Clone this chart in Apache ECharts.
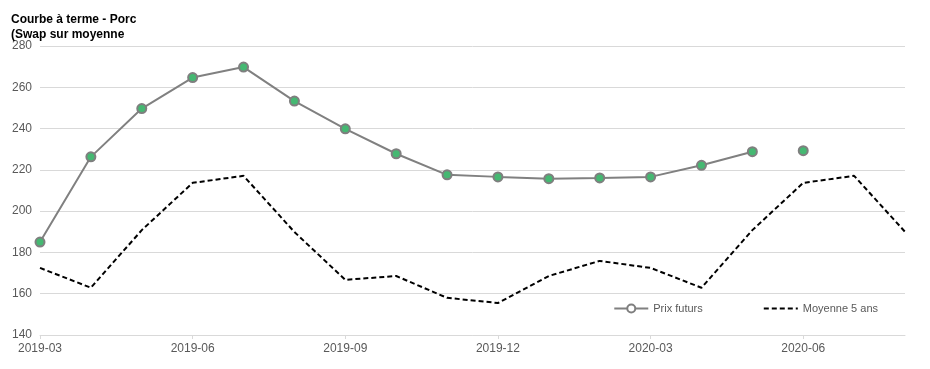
<!DOCTYPE html>
<html><head><meta charset="utf-8">
<script src="https://cdn.jsdelivr.net/npm/echarts@6/dist/echarts.min.js"></script>
<style>html,body{margin:0;padding:0;background:#fff}#c{width:930px;height:369px}</style>
</head><body><div id="c"></div>
<script>
var categories = ['2019-03','2019-04','2019-05','2019-06','2019-07','2019-08','2019-09','2019-10','2019-11','2019-12','2020-01','2020-02','2020-03','2020-04','2020-05','2020-06','2020-07','2020-08'];
var prixFuturs = [185,226.3,249.7,264.7,269.8,253.3,239.9,227.8,217.6,216.6,215.7,216.1,216.6,222.2,228.8,null,null,null];
var prixIsole = [null,null,null,null,null,null,null,null,null,null,null,null,null,null,null,229.3,null,null];
var moyenne5 = [172.5,162.9,190.8,213.7,217.1,189.9,166.7,168.6,158,155.5,168.6,175.9,172.5,162.9,190.8,213.7,217.1,190];
var yTicks = {min:140, max:280, interval:20};

var chart = echarts.init(document.getElementById('c'));
var markerStyle = {color:'#45b872', borderColor:'#7f7f7f', borderWidth:2};
chart.setOption({
  animation:false,
  title:{text:'Courbe à terme - Porc\n(Swap sur moyenne', left:6, top:7,
    textStyle:{fontFamily:'Liberation Sans', fontSize:12, fontWeight:'bold', color:'#000', lineHeight:15}},
  grid:{left:40, right:25, top:46, bottom:34},
  legend:{right:47, bottom:50, itemGap:60, itemWidth:34, itemHeight:10,
    textStyle:{fontFamily:'Liberation Sans', fontSize:11, color:'#595959'},
    data:[{name:'Prix futurs', itemStyle:{color:'#fff', borderColor:'#7f7f7f', borderWidth:2}},
          {name:'Moyenne 5 ans', itemStyle:{opacity:0}}]},
  xAxis:{type:'category', data:categories, boundaryGap:false,
    axisLine:{show:true, lineStyle:{color:'#d9d9d9'}},
    axisTick:{show:true, alignWithLabel:true, interval:2, length:4, lineStyle:{color:'#d9d9d9'}},
    axisLabel:{interval:2, color:'#595959', fontFamily:'Liberation Sans', fontSize:12, margin:8},
    splitLine:{show:false}},
  yAxis:{type:'value', min:yTicks.min, max:yTicks.max, interval:yTicks.interval,
    axisLine:{show:false}, axisTick:{show:false},
    axisLabel:{color:'#595959', fontFamily:'Liberation Sans', fontSize:12, margin:8},
    splitLine:{lineStyle:{color:'#d9d9d9', width:1}}},
  series:[
    {name:'Prix futurs', type:'line', data:prixFuturs, symbol:'circle', symbolSize:9,
      lineStyle:{color:'#808080', width:2}, itemStyle:markerStyle, connectNulls:false, z:3},
    {name:'Prix futurs', type:'line', data:prixIsole, symbol:'circle', symbolSize:9,
      lineStyle:{color:'#808080', width:2}, itemStyle:markerStyle, z:3},
    {name:'Moyenne 5 ans', type:'line', data:moyenne5, symbol:'none',
      lineStyle:{color:'#000', width:2, type:[5,3]}, itemStyle:{color:'#000'}, z:2}
  ]
});
</script></body></html>
